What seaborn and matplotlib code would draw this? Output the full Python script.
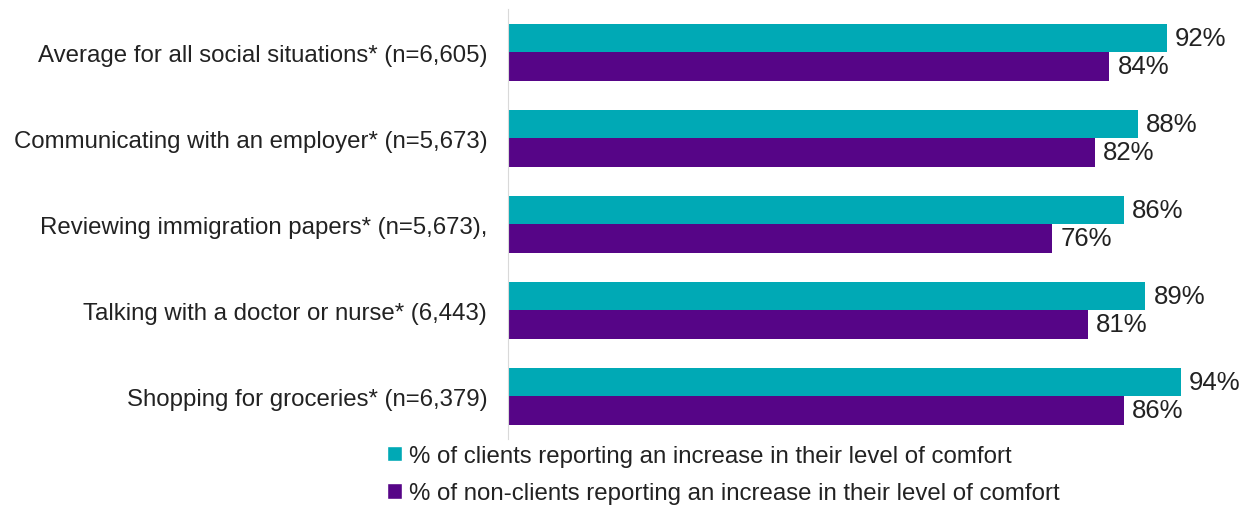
"""
Niveau de confort dans les situations sociales - clients vs non-clients
"""

import pandas as pd
import matplotlib.pyplot as plt
import seaborn as sns
from matplotlib.patches import Patch

# Données
situations = [
    "Average for all social situations* (n=6,605)",
    "Communicating with an employer* (n=5,673)",
    "Reviewing immigration papers* (n=5,673),",
    "Talking with a doctor or nurse* (6,443)",
    "Shopping for groceries* (n=6,379)",
]
clients = [92, 88, 86, 89, 94]
non_clients = [84, 82, 76, 81, 86]
series = [
    "% of clients reporting an increase in their level of comfort",
    "% of non-clients reporting an increase in their level of comfort",
]
couleurs = ["#00A9B5", "#560587"]

df = pd.DataFrame({
    "situation": situations * 2,
    "valeur": clients + non_clients,
    "groupe": [series[0]] * len(situations) + [series[1]] * len(situations),
})

sns.set_style("white")
plt.rcParams["font.family"] = ["Liberation Sans", "DejaVu Sans"]

fig = plt.figure(figsize=(12.45, 5.06), dpi=100)
ax = fig.add_axes([0.408, 0.130, 0.575, 0.850])

sns.barplot(data=df, y="situation", x="valeur", hue="groupe",
            palette=couleurs, width=0.66, orient="h", ax=ax,
            legend=False, saturation=1, linewidth=0)

for cont in ax.containers:
    ax.bar_label(cont, labels=[f"{v:.0f}%" for v in cont.datavalues],
                 padding=6, fontsize=18.5, color="#222222")

ax.set_xlim(0, 100)
ax.set_xlabel("")
ax.set_ylabel("")
ax.set_xticks([])
ax.tick_params(axis="y", length=0, labelsize=17.3, pad=15, labelcolor="#222222")
for cote in ["top", "right", "bottom"]:
    ax.spines[cote].set_visible(False)
ax.spines["left"].set_color("#D9D9D9")

poignees = [Patch(facecolor=c, label=s) for c, s in zip(couleurs, series)]
fig.legend(handles=poignees, loc="upper left", bbox_to_anchor=(0.311, 0.118),
           frameon=False, fontsize=17.3, handlelength=0.6, handleheight=0.6,
           handletextpad=0.3, labelspacing=0.63, borderpad=0, borderaxespad=0,
           labelcolor="#222222")

fig.savefig("out.png", dpi=100)
plt.close()
